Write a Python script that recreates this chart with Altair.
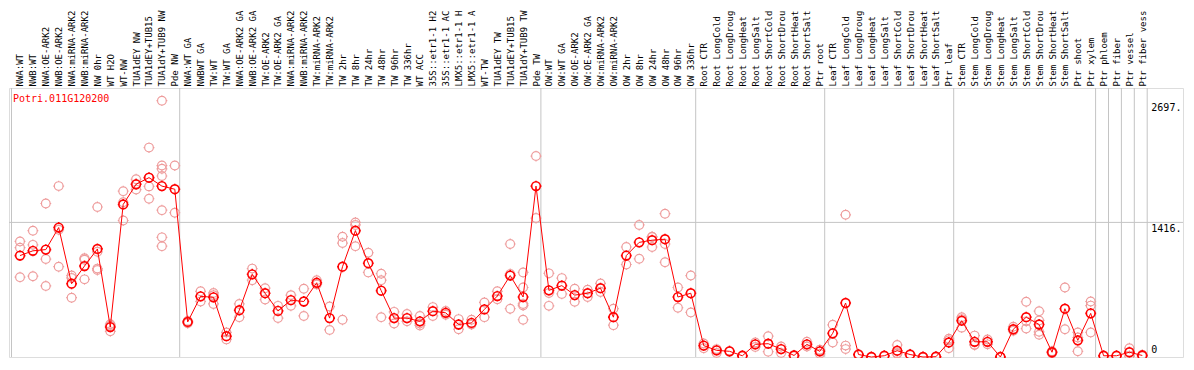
import json
import numpy as np
import pandas as pd
import altair as alt

FONT = "DejaVu Sans Mono"

gene_id = "Potri.011G120200"

# category labels as far as they are legible in the reference
categories = [
    "NWA:WT", "NWB:WT", "NWA:OE-ARK2", "NWB:OE-ARK2", "NWA:miRNA-ARK2", "NWB:miRNA-ARK2",
    "NW 0hr", "WT H2O", "WT-NW", "TUA1dEY NW", "TUA1dEY+TUB15", "TUA1dY+TUB9 NW", "Pde NW",
    "NWA:WT GA", "NWBWT GA", "TW:WT", "TW:WT GA", "NWA:OE-ARK2 GA", "NWB:OE-ARK2 GA",
    "TW:OE-ARK2", "TW:OE-ARK2 GA", "NWA:miRNA-ARK2", "NWB:miRNA-ARK2", "TW:miRNA-ARK2",
    "TW:miRNA-ARK2", "TW 2hr", "TW 8hr", "TW 24hr", "TW 48hr", "TW 96hr", "TW 336hr",
    "WT ACC", "35S::etr1-1 H2", "35S::etr1-1 AC", "LMX5::etr1-1 H", "LMX5::etr1-1 A",
    "WT-TW", "TUA1dEY TW", "TUA1dEY+TUB15", "TUA1dY+TUB9 TW", "Pde TW",
    "OW:WT", "OW:WT GA", "OW:OE-ARK2", "OW:OE-ARK2 GA", "OW:miRNA-ARK2", "OW:miRNA-ARK2",
    "OW 2hr", "OW 8hr", "OW 24hr", "OW 48hr", "OW 96hr", "OW 336hr",
    "Root CTR", "Root LongCold", "Root LongDroug", "Root LongHeat", "Root LongSalt",
    "Root ShortCold", "Root ShortDrou", "Root ShortHeat", "Root ShortSalt", "Ptr root",
    "Leaf CTR", "Leaf LongCold", "Leaf LongDroug", "Leaf LongHeat", "Leaf LongSalt",
    "Leaf ShortCold", "Leaf ShortDrou", "Leaf ShortHeat", "Leaf ShortSalt", "Ptr leaf",
    "Stem CTR", "Stem LongCold", "Stem LongDroug", "Stem LongHeat", "Stem LongSalt",
    "Stem ShortCold", "Stem ShortDrou", "Stem ShortHeat", "Stem ShortSalt", "Ptr shoot",
    "Ptr xylem", "Ptr phloem", "Ptr fiber", "Ptr vessel", "Ptr fiber vess",
]

group_sizes = [13, 28, 12, 10, 10, 11, 1, 1, 1, 1]

means = [
    1067, 1117, 1130, 1362, 771, 957, 1137, 315, 1605, 1817, 1887, 1798, 1765,
    369, 638, 628, 219, 492, 870, 671, 485, 598, 584, 781, 409, 950, 1329, 987, 698,
    409, 409, 375, 482, 465, 342, 359, 501, 641, 857, 631, 1798,
    701, 751, 651, 671, 724, 419, 1067, 1206, 1229, 1239, 631, 671,
    120, 70, 60, 13, 133, 140, 83, 16, 133, 60,
    249, 568, 26, 0, 13, 66, 26, 0, 3, 153,
    382, 160, 160, 0, 292, 419, 342, 50, 508, 175, 459,
    13, 13, 50, 16,
]

replicates = [
    [1216, 1150, 840], [1329, 1180, 850], [1615, 1030, 748], [1798, 1338, 950],
    [857, 832, 624], [1040, 1023, 817], [1578, 1107, 930, 915], [345, 330, 270],
    [1745, 1628, 1436], [1870, 1820, 1761], [2203, 1887, 1795, 1665],
    [2697, 2014, 1980, 1904, 1545, 1259, 1166], [2014, 1518],
    [380, 355], [691, 584], [674, 651, 558], [259, 185], [558, 419], [930, 808],
    [724, 604], [538, 409], [651, 538], [718, 432], [808, 764], [531, 285],
    [1266, 1199, 392], [1416, 1389, 1166], [1097, 890], [877, 808, 419],
    [475, 352], [452, 375], [432, 352, 332], [525, 432], [485, 445], [399, 292],
    [392, 342], [574, 419], [691, 608], [1189, 874, 508], [890, 731, 558, 541, 392],
    [2114, 1462],
    [880, 674, 538], [830, 664], [718, 581], [708, 631], [774, 684], [508, 335],
    [1157, 973], [1389, 1033], [1266, 1262, 1157], [1508, 1189, 997], [731, 518],
    [857, 469],
    [143, 93], [83, 43], [62, 58], [16, 10], [153, 106], [219, 56], [110, 43],
    [20, 10], [160, 110], [76, 33],
    [339, 153], [1496, 120, 83], [30, 20], [0, 0], [15, 10], [126, 40, 33],
    [30, 20], [0, 0], [5, 0], [192, 175, 93],
    [419, 399, 309], [225, 130, 126], [185, 133], [0, 0], [319, 275],
    [581, 375, 299], [482, 385, 265, 235], [60, 40], [731, 292], [259, 205, 60],
    [584, 541, 259],
    [15, 10], [15, 10], [93, 10], [25, 8],
]

value_marks = [2697, 1416, 0]
value_texts = ["2697.", "1416.", "0"]
grid_values = [1416]

# ---------------------------------------------------------------- tables
idx = list(range(len(categories)))
mean_df = pd.DataFrame({"idx": idx, "v": means, "cat": categories})
rep_df = pd.DataFrame(
    [{"idx": i, "v": v} for i, reps in enumerate(replicates) for v in reps]
)
ends = np.cumsum(group_sizes) - 1
sep_df = pd.DataFrame({"idx": [-0.66] + [float(e) + 0.38 for e in ends]})
grid_df = pd.DataFrame({"v": grid_values})
top_lab_df = pd.DataFrame({"idx": [len(categories) - 0.3] * 2,
                           "v": value_marks[:2], "t": value_texts[:2]})
bot_lab_df = pd.DataFrame({"idx": [len(categories) - 0.3],
                           "v": value_marks[2:], "t": value_texts[2:]})
title_df = pd.DataFrame({"t": [gene_id]})

# ---------------------------------------------------------------- encodings
label_expr = "[" + ",".join(json.dumps(c) for c in categories) + "][datum.value]"
X = alt.X(
    "idx:Q",
    scale=alt.Scale(domain=[-0.8527, 90.155], nice=False, zero=False),
    axis=alt.Axis(
        orient="top", values=idx, labelExpr=label_expr, labelAngle=270,
        labelAlign="left", labelBaseline="middle", labelPadding=2,
        ticks=False, domain=False, grid=False, title=None,
        labelFont=FONT, labelFontSize=9, labelColor="black",
        labelOverlap=False, labelFlush=False, labelBound=False, labelLimit=300,
    ),
)
Y = alt.Y("v:Q", scale=alt.Scale(domain=[0, 2830], nice=False, zero=True), axis=None)

marker = ("M0.8,0 A0.8,0.8 0 1,1 -0.8,0 A0.8,0.8 0 1,1 0.8,0 "
          "M0,-1 L0,-0.8 M0,0.8 L0,1 M-1,0 L-0.8,0 M0.8,0 L1,0")

seps = alt.Chart(sep_df).mark_rule(color="#c4c4c4", strokeWidth=1).encode(x=X)
grid = alt.Chart(grid_df).mark_rule(color="#c4c4c4", strokeWidth=1).encode(y=Y)
reps = alt.Chart(rep_df).mark_point(
    shape=marker, filled=False, size=118, strokeWidth=1.2, color="#ee9c9c", opacity=1
).encode(x=X, y=Y)
line = alt.Chart(mean_df).mark_line(color="#ff0000", strokeWidth=1).encode(x=X, y=Y)
dots = alt.Chart(mean_df).mark_point(
    shape=marker, filled=False, size=118, strokeWidth=1.6, color="#ff0000", opacity=1
).encode(x=X, y=Y)
title = alt.Chart(title_df).mark_text(
    align="left", baseline="middle", font=FONT, fontSize=10, color="#ff0000"
).encode(text="t:N", x=alt.value(4), y=alt.value(11))
top_labels = alt.Chart(top_lab_df).mark_text(
    align="left", baseline="top", dy=2, font=FONT, fontSize=10, color="black"
).encode(text="t:N", x=X, y=Y)
bot_labels = alt.Chart(bot_lab_df).mark_text(
    align="left", baseline="bottom", dy=-2, font=FONT, fontSize=10, color="black"
).encode(text="t:N", x=X, y=Y)

chart = (
    alt.layer(seps, grid, reps, line, dots, title, top_labels, bot_labels)
    .properties(
        width=1174, height=269,
        padding={"left": 1, "top": 80, "right": 1, "bottom": 1},
        autosize=alt.AutoSizeParams(type="none"),
    )
    .configure_view(stroke="black", strokeWidth=1)
    .configure(background="white")
)

chart.save("out.html", embed_options={"renderer": "svg", "actions": False})
